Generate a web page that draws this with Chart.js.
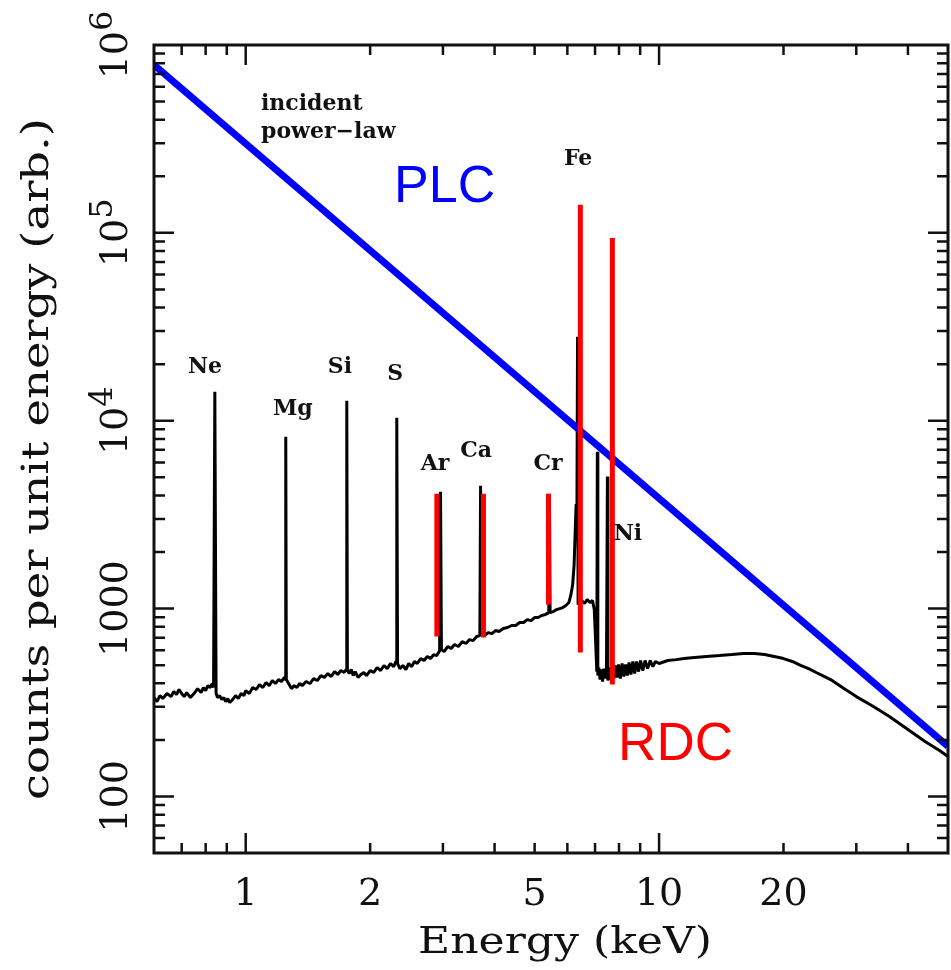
<!DOCTYPE html>
<html>
<head>
<meta charset="utf-8">
<script src="https://cdn.jsdelivr.net/npm/chart.js@4.4.0/dist/chart.umd.min.js"></script>
<style>
html, body { margin: 0; padding: 0; background: #fff; }
canvas { display: block; }
</style>
</head>
<body>
<canvas id="spectrum_chart" width="951" height="970"></canvas>
<script>
// reflected spectrum (black)
const spectrum_energy = [
    0.60, 0.61, 0.62, 0.63, 0.645, 0.66, 0.67, 0.68, 0.69, 0.70, 0.71, 0.72, 0.735, 0.75, 0.765, 0.78, 0.79, 0.80, 0.81, 0.82, 0.83, 0.836,
    0.842, 0.848, 0.855, 0.865, 0.875, 0.885, 0.895, 0.905, 0.915, 0.93, 0.945, 0.96, 0.975, 0.99, 1.00, 1.02, 1.04, 1.06, 1.08, 1.10, 1.12, 1.14, 1.16, 1.18, 1.20, 1.22, 1.24, 1.246,
    1.25, 1.254, 1.27, 1.29, 1.31, 1.33, 1.35, 1.37, 1.40, 1.43, 1.46, 1.49, 1.52, 1.55, 1.58, 1.61, 1.64, 1.67, 1.70, 1.73, 1.75,
    1.756, 1.762, 1.78, 1.80, 1.82, 1.84, 1.87, 1.90, 1.93, 1.96, 2.00, 2.04, 2.08, 2.12, 2.16, 2.20, 2.24, 2.28, 2.31,
    2.32, 2.33, 2.36, 2.40, 2.44, 2.48, 2.52, 2.56, 2.60, 2.65, 2.70, 2.75, 2.80, 2.85, 2.90, 2.945,
    2.96, 2.975, 3.02, 3.08, 3.14, 3.20, 3.27, 3.34, 3.41, 3.48, 3.55, 3.62, 3.685,
    3.70, 3.715, 3.78, 3.86, 3.94, 4.02, 4.10, 4.20, 4.30, 4.40, 4.50, 4.60, 4.70, 4.80, 4.90, 5.00, 5.10, 5.20, 5.30, 5.41,
    5.43, 5.45, 5.55, 5.65, 5.75, 5.85, 5.95, 6.05, 6.12, 6.18, 6.23, 6.27, 6.30, 6.33,
    6.35, 6.37, 6.42, 6.50, 6.60, 6.70, 6.80, 6.90, 6.97, 7.02, 7.07,
    7.09, 7.11, 7.15, 7.20, 7.25, 7.30, 7.35, 7.40, 7.46,
    7.50, 7.52, 7.57, 7.63, 7.70, 7.77, 7.84, 7.91, 7.98, 8.06, 8.14, 8.22, 8.30, 8.38, 8.46, 8.55, 8.64, 8.73, 8.82, 8.92, 9.02, 9.13, 9.25, 9.38, 9.52, 9.66, 9.80, 10.0,
    10.5, 11, 11.5, 12, 13, 14, 15, 16, 17, 18, 19, 20, 21, 22, 23, 24, 26, 28, 30, 33, 36, 40, 44, 48, 50
];
const spectrum_counts = [
    336, 320, 344, 332, 353, 340, 362, 349, 371, 353, 340, 357, 336, 353, 375, 357, 380, 366, 389, 380, 399, 380,
    14260, 353, 336, 344, 328, 336, 320, 332, 316, 328, 344, 332, 353, 344, 366, 353, 380, 371, 394, 380, 404, 389, 414, 399, 419, 409, 430, 419,
    8220, 419, 399, 375, 389, 380, 399, 389, 409, 399, 424, 414, 440, 430, 451, 435, 462, 446, 468, 457, 474,
    12770, 468, 451, 474, 440, 462, 430, 446, 457, 440, 468, 457, 485, 468, 498, 479, 510, 491, 523,
    10370, 510, 479, 498, 474, 510, 491, 523, 510, 542, 529, 556, 542, 569, 562, 597,
    4190, 605, 590, 628, 613, 644, 628, 667, 652, 684, 675, 710, 718,
    4510, 727, 718, 745, 736, 764, 755, 783, 793, 813, 813, 843, 843, 874, 863, 896, 896, 918, 929, 952,
    4000, 952, 964, 988, 1000, 1012, 1038, 1077, 1186, 1343, 1714, 2630, 3574, 3800,
    27980, 1050, 1077, 1104, 1064, 1117, 1077, 1104, 988, 684, 462,
    6840, 440, 485, 419, 474, 409, 479, 424, 468,
    5040, 414, 485, 419, 491, 424, 498, 430, 504, 424, 510, 435, 504, 440, 516, 446, 523, 451, 523, 462, 529, 468, 529, 479, 529, 491, 523, 510,
    529, 535, 542, 548, 556, 562, 569, 576, 576, 569, 556, 542, 523, 498, 479, 457, 419, 375, 340, 301, 267, 227, 196, 174, 163
];

// incident power-law continuum (blue)
const plc_energy = [0.6, 50];
const plc_counts = [783000, 185];

// RDC line markers (red)
const rdc_energy = [2.90, 3.76, 5.40, 6.45, 7.71];
const rdc_low = [710, 702, 1050, 583, 394];
const rdc_high = [4090, 4090, 4090, 141000, 94000];

// element labels
const element_names = ["Ne", "Mg", "Si", "S", "Ar", "Ca", "Cr", "Fe", "Ni"];
const element_energy = [0.797, 1.30, 1.69, 2.30, 2.87, 3.61, 5.39, 6.37, 8.41];
const element_counts = [19370, 11450, 19370, 17580, 5830, 6840, 5830, 245000, 2477];

// axis ticks
const x_minor_ticks = [0.7, 0.8, 0.9, 2, 3, 4, 5, 6, 7, 8, 9, 20, 30, 40];
const x_major_ticks = [1, 10];
const x_tick_labels = ["1", "2", "5", "10", "20"];
const y_minor_ticks = [60, 70, 80, 90, 200, 300, 400, 500, 600, 700, 800, 900, 2000, 3000, 4000, 5000, 6000, 7000, 8000, 9000,
    20000, 30000, 40000, 50000, 60000, 70000, 80000, 90000, 200000, 300000, 400000, 500000, 600000, 700000, 800000, 900000];
const y_major_ticks = [100, 1000, 10000, 100000];
const y_tick_values = [100, 1000, 10000, 100000, 1000000];
const y_tick_labels = ["100", "1000", "10^4", "10^5", "10^6"];

const serif = "'DejaVu Serif', serif";
const ink = "#111";

function stretched_text(ctx, text, x, y, width)
{
    const w = ctx.measureText(text).width;
    ctx.save();
    ctx.translate(x, y);
    ctx.scale(width / w, 1);
    ctx.fillText(text, 0, 0);
    ctx.restore();
}

const frame_plugin =
{
    id: "frame",
    afterDraw(chart)
    {
        const ctx = chart.ctx;
        const area = chart.chartArea;
        const x = chart.scales.x;
        const y = chart.scales.y;

        ctx.save();
        ctx.strokeStyle = ink;
        ctx.fillStyle = ink;
        ctx.lineWidth = 3;
        ctx.strokeRect(area.left, area.top, area.right - area.left, area.bottom - area.top);

        ctx.lineWidth = 2.5;
        ctx.beginPath();
        const x_tick = (v, len) =>
        {
            const px = x.getPixelForValue(v);
            ctx.moveTo(px, area.bottom); ctx.lineTo(px, area.bottom - len);
            ctx.moveTo(px, area.top); ctx.lineTo(px, area.top + len);
        };
        const y_tick = (v, len) =>
        {
            const py = y.getPixelForValue(v);
            ctx.moveTo(area.left, py); ctx.lineTo(area.left + len, py);
            ctx.moveTo(area.right, py); ctx.lineTo(area.right - len, py);
        };
        x_minor_ticks.forEach(v => x_tick(v, 10));
        x_major_ticks.forEach(v => x_tick(v, 20));
        y_minor_ticks.forEach(v => y_tick(v, 11));
        y_major_ticks.forEach(v => y_tick(v, 20));
        ctx.stroke();

        // x tick labels
        ctx.font = "38px " + serif;
        ctx.textAlign = "center";
        ctx.textBaseline = "alphabetic";
        x_tick_labels.forEach(t => ctx.fillText(t, x.getPixelForValue(Number(t)), 905));

        // y tick labels, rotated
        y_tick_values.forEach((v, i) =>
        {
            const py = y.getPixelForValue(v);
            const parts = y_tick_labels[i].split("^");
            ctx.save();
            ctx.translate(127, py);
            ctx.rotate(-Math.PI / 2);
            ctx.textAlign = "left";
            ctx.font = "38px " + serif;
            const wb = ctx.measureText(parts[0]).width;
            let we = 0;
            if (parts[1])
            {
                ctx.font = "32px " + serif;
                we = ctx.measureText(parts[1]).width;
            }
            const start = -(wb + we) / 2;
            ctx.font = "38px " + serif;
            ctx.fillText(parts[0], start, 0);
            if (parts[1])
            {
                ctx.font = "32px " + serif;
                ctx.fillText(parts[1], start + wb, -15);
            }
            ctx.restore();
        });

        // axis titles
        ctx.font = "38px " + serif;
        ctx.textAlign = "center";
        stretched_text(ctx, "Energy (keV)", 565, 953, 294);
        ctx.save();
        ctx.translate(48, 459);
        ctx.rotate(-Math.PI / 2);
        stretched_text(ctx, "counts per unit energy (arb.)", 0, 0, 682);
        ctx.restore();

        // element labels
        ctx.font = "bold 22px " + serif;
        ctx.textAlign = "center";
        ctx.textBaseline = "middle";
        element_names.forEach((n, i) =>
        {
            ctx.fillText(n, x.getPixelForValue(element_energy[i]), y.getPixelForValue(element_counts[i]));
        });
        ctx.textAlign = "left";
        ctx.fillText("incident", x.getPixelForValue(1.089), y.getPixelForValue(485000));
        ctx.fillText("power\u2212law", x.getPixelForValue(1.089), y.getPixelForValue(344000));

        // PLC / RDC
        ctx.textBaseline = "alphabetic";
        ctx.font = "52px 'Liberation Sans', Arial, sans-serif";
        ctx.fillStyle = "#0000ff";
        ctx.fillText("PLC", x.getPixelForValue(2.285), y.getPixelForValue(146000));
        ctx.font = "53px 'Liberation Sans', Arial, sans-serif";
        ctx.fillStyle = "#ff0000";
        ctx.fillText("RDC", x.getPixelForValue(7.96), y.getPixelForValue(157));
        ctx.restore();
    }
};

const rdc_datasets = rdc_energy.map((e, i) => ({
    data: [{ x: e, y: rdc_low[i] }, { x: e, y: rdc_high[i] }],
    borderColor: "#ff0000",
    borderWidth: 5,
    borderCapStyle: "butt",
    pointRadius: 0,
    order: 0
}));

const spectrum_chart = new Chart("spectrum_chart",
{
    type: "line",
    data:
    {
        datasets:
        [
            ...rdc_datasets,
            {
                data: plc_energy.map((e, i) => ({ x: e, y: plc_counts[i] })),
                borderColor: "#0000ff",
                borderWidth: 7,
                pointRadius: 0,
                order: 1
            },
            {
                data: spectrum_energy.map((e, i) => ({ x: e, y: spectrum_counts[i] })),
                borderColor: "#000",
                borderWidth: 3,
                borderJoinStyle: "bevel",
                pointRadius: 0,
                tension: 0,
                order: 2
            }
        ]
    },
    options:
    {
        responsive: false,
        animation: false,
        layout:
        {
            padding: { left: 154, top: 45, right: 3, bottom: 117 }
        },
        plugins:
        {
            legend: { display: false },
            tooltip: { enabled: false }
        },
        scales:
        {
            x:
            {
                type: "logarithmic",
                min: 0.6,
                max: 50,
                display: false
            },
            y:
            {
                type: "logarithmic",
                min: 50,
                max: 1000000,
                display: false
            }
        }
    },
    plugins: [frame_plugin]
});
</script>
</body>
</html>
